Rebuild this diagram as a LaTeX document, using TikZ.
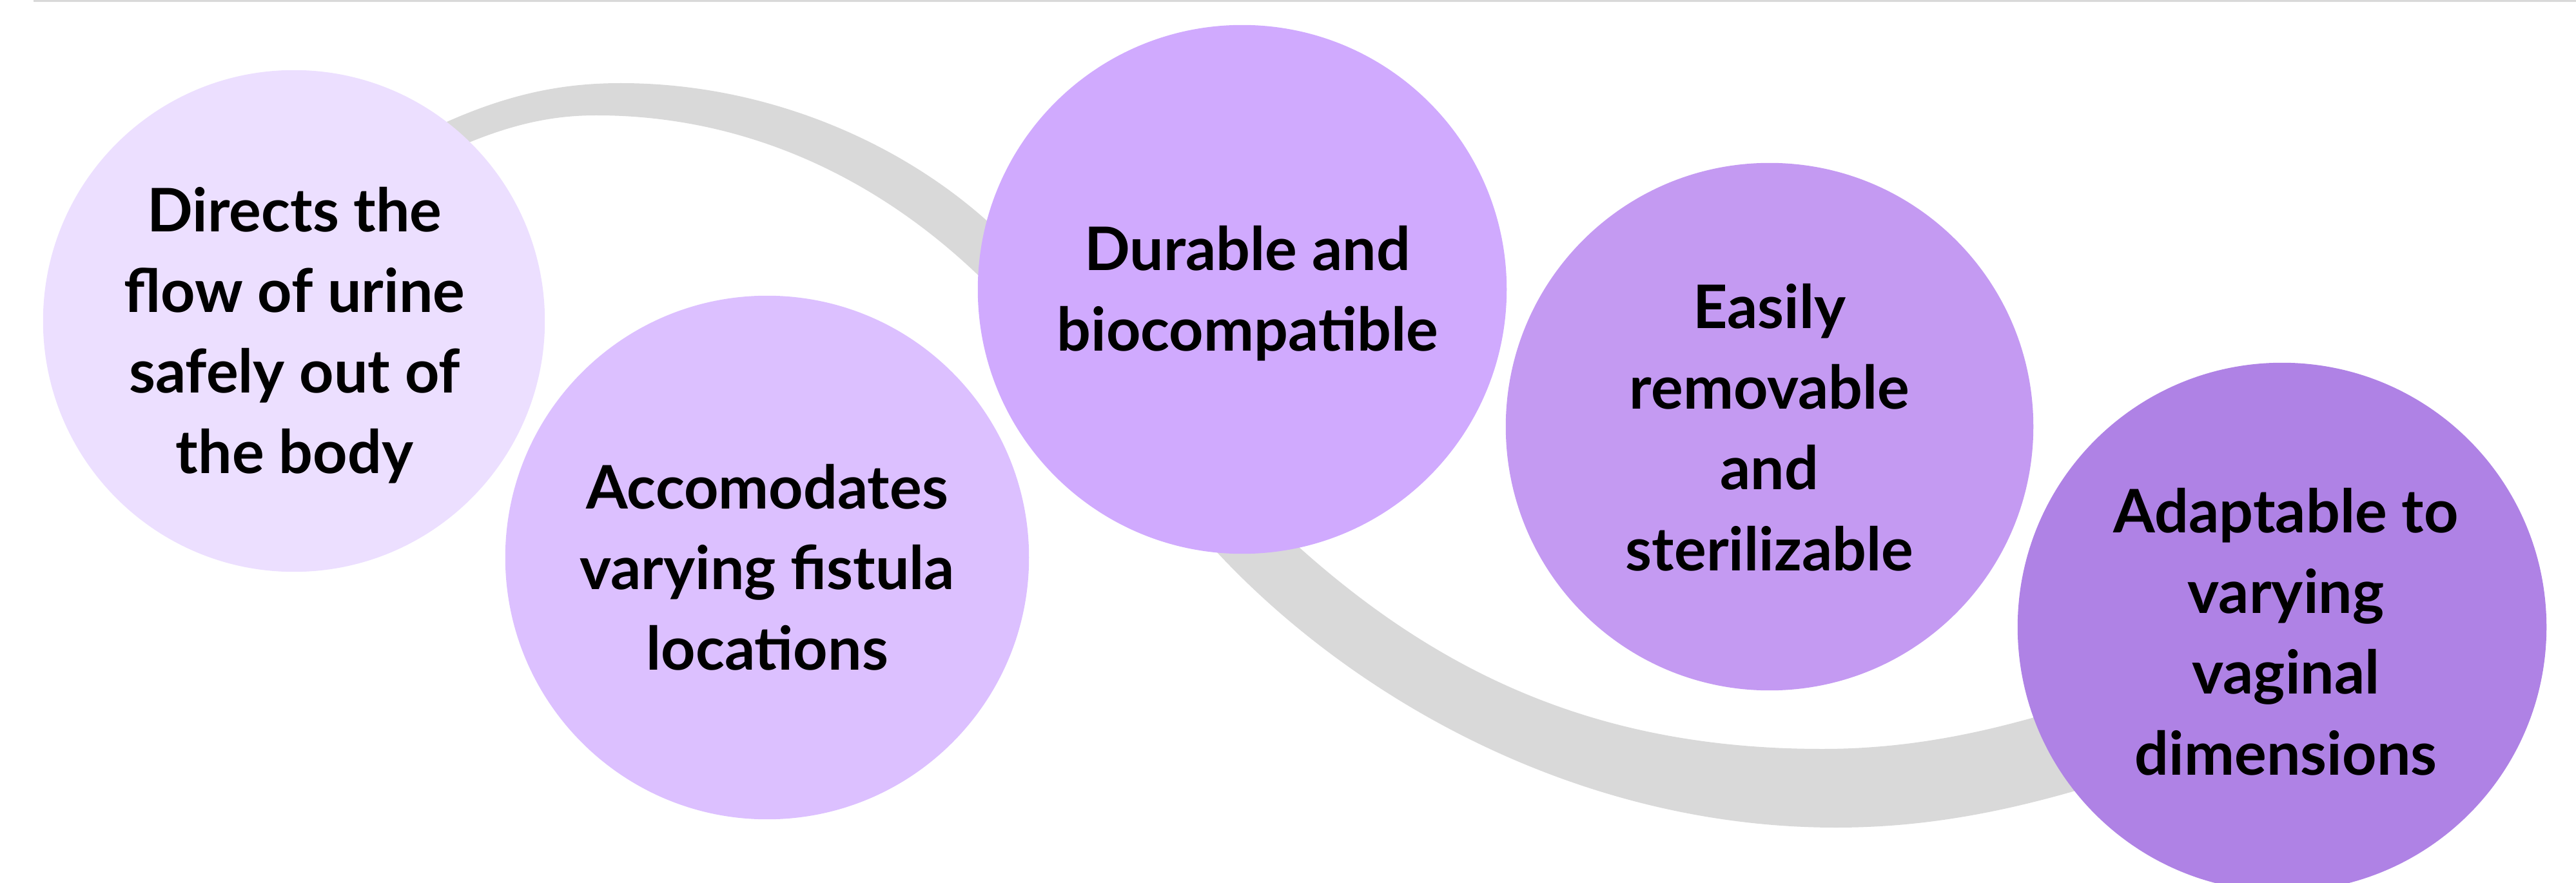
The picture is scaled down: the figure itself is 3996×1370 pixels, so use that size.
\documentclass[tikz,border=0pt]{standalone}
\usepackage{fontspec}
\setmainfont{Lato}
\definecolor{cA}{HTML}{ECDFFF}
\definecolor{cB}{HTML}{DCC0FF}
\definecolor{cC}{HTML}{D0AAFE}
\definecolor{cD}{HTML}{C49AF2}
\definecolor{cE}{HTML}{AF82E5}
\definecolor{bandgray}{HTML}{D9D9D9}
\tikzset{
  bubble/.style={circle, inner sep=0pt, draw=none},
  btext/.style={align=center, inner sep=0pt, text=black,
    font=\fontsize{26.5}{35.6}\selectfont\bfseries}
}
\begin{document}
\begin{tikzpicture}[x=0.01cm, y=-0.01cm]
\useasboundingbox (0,0) rectangle (3996,1370);
% top rule
\fill[bandgray] (52,0) rectangle (3996,3.5);
% gray band (filled between outer and inner edges)
\fill[bandgray]
  (620,225) .. controls (760,150) and (860,129) .. (963,129)
  .. controls (1200,129) and (1420,230) .. (1560,370)
  .. controls (1700,510) and (1760,720) .. (1887,856)
  .. controls (2100,1085) and (2450,1284) .. (2848,1284)
  .. controls (3000,1284) and (3150,1255) .. (3350,1185)
  -- (3320,1060)
  .. controls (3150,1120) and (3000,1162) .. (2827,1162)
  .. controls (2500,1162) and (2250,1060) .. (2014,848)
  .. controls (1850,700) and (1680,580) .. (1510,420)
  .. controls (1350,270) and (1150,179) .. (925,179)
  .. controls (840,179) and (760,200) .. (640,262)
  -- cycle;
% circles
\node[bubble, fill=cA, minimum size=7.78cm] (c1) at (456,498) {};
\node[bubble, fill=cB, minimum size=8.12cm] (c2) at (1190,865) {};
\node[bubble, fill=cC, minimum size=8.20cm] (c3) at (1927,449) {};
\node[bubble, fill=cD, minimum size=8.18cm] (c4) at (2745,662) {};
\node[bubble, fill=cE, minimum size=8.20cm] (c5) at (3540,973) {};
% texts
\node[btext] (t1) at (457,520) {Directs the\\flow of urine\\safely out of\\the body};
\node[btext] (t2) at (1190,880) {Accomodates\\varying fistula\\locations};
\node[btext] (t3) at (1935,455) {Durable and\\biocompatible};
\node[btext] (t4) at (2745,663) {Easily\\removable\\and\\sterilizable};
\node[btext] (t5) at (3546,980) {Adaptable to\\varying\\vaginal\\dimensions};
\end{tikzpicture}
\end{document}
